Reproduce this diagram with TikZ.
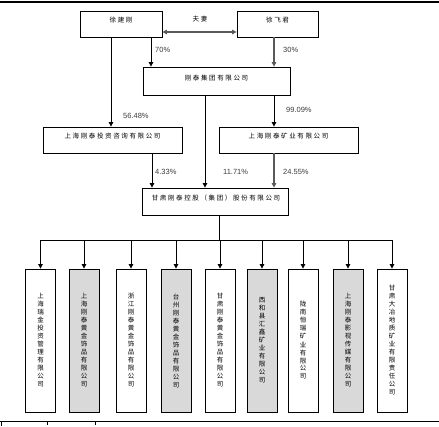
\documentclass[tikz,border=0pt]{standalone}
\usepackage{fontspec}
\setmainfont{Liberation Sans}
\newfontfamily\cjk{Noto Sans CJK SC}
\newfontfamily\cjkw[LetterSpace=25]{Noto Sans CJK SC}
\usetikzlibrary{arrows.meta}
\definecolor{boxgray}{RGB}{217,217,217}
\definecolor{labelgray}{RGB}{60,60,60}
\definecolor{linegray}{RGB}{90,90,90}
\begin{document}
\begin{tikzpicture}[x=1pt,y=-1pt,
  box/.style={draw=black, line width=0.8pt, inner sep=0pt, fill=white},
  gbox/.style={box, fill=boxgray},
  ht/.style={font=\cjkw\fontsize{6.5}{8}\selectfont, inner sep=0pt},
  vt/.style={font=\cjk\fontsize{6.5}{8}\selectfont, align=center},
  child/.style={box, minimum width=30pt, minimum height=143pt, vt},
  gchild/.style={child, fill=boxgray},
  pct/.style={font=\fontsize{7.5}{9}\selectfont, text=labelgray, inner sep=0pt, anchor=west},
  arr/.style={draw=black, line width=0.8pt, -{Triangle[length=4.5pt,width=4.5pt]}},
  garr/.style={draw=linegray, line width=1.3pt, -{Triangle[length=4.5pt,width=4.5pt]}},
  darr/.style={draw=linegray, line width=1.1pt, {Triangle[length=4.5pt,width=4.5pt]}-{Triangle[length=4.5pt,width=4.5pt]}},
  ln/.style={draw=black, line width=0.8pt}
]
\useasboundingbox (0,0) rectangle (439,426);

% rules
\coordinate (tl) at (0,2);
\coordinate (tr) at (439,2);
\coordinate (bl) at (0,421);
\coordinate (br) at (439,421);
\draw[line width=1.6pt] (tl) -- (tr);
\draw[line width=0.8pt] (bl) -- (br);
\coordinate (k1a) at (1,422); \coordinate (k1b) at (1,426);
\coordinate (k2a) at (47,422); \coordinate (k2b) at (47,425);
\coordinate (k3a) at (95,422); \coordinate (k3b) at (95,425);
\draw[line width=0.6pt] (k1a) -- (k1b);
\draw[line width=0.5pt] (k2a) -- (k2b);
\draw[line width=0.5pt] (k3a) -- (k3b);

% top boxes
\node[box, minimum width=82pt, minimum height=26pt] (xjg) at (121,24) {};
\node[ht] (txjg) at (121,20) {徐建刚};
\node[box, minimum width=81pt, minimum height=26pt] (xfj) at (277.5,24) {};
\node[ht] (txfj) at (277.5,20) {徐飞君};
\node[ht] (fq) at (200,19) {夫妻};
\coordinate (dy) at (0,32);
\draw[darr] (xjg.east |- dy) -- (xfj.west |- dy);

\node[box, minimum width=147pt, minimum height=28pt] (jt) at (216.5,81) {};
\node[ht] (tjt) at (216.5,78) {刚泰集团有限公司};

\node[box, minimum width=139pt, minimum height=26pt] (tz) at (112.5,140) {};
\node[ht] (ttz) at (112.5,136) {上海刚泰投资咨询有限公司};
\node[box, minimum width=139pt, minimum height=26pt] (ky) at (288.5,140) {};
\node[ht] (tky) at (288.5,136) {上海刚泰矿业有限公司};

\node[box, minimum width=146pt, minimum height=27pt] (gs) at (215,201.5) {};
\node[ht] (tgs) at (216,198) {甘肃刚泰控股（集团）股份有限公司};

% x positions of vertical connectors
\coordinate (x70) at (151,0);
\coordinate (x30) at (274,0);
\coordinate (x56) at (111,0);
\coordinate (x11) at (205,0);
\coordinate (x99) at (274,0);
\coordinate (x43) at (152,0);
\coordinate (x24) at (274,0);
\coordinate (xb) at (219,0);

\draw[arr] (xjg.south -| x70) -- (jt.north -| x70);
\draw[garr] (xfj.south -| x30) -- (jt.north -| x30);
\draw[arr] (xjg.south -| x56) -- (tz.north -| x56);
\draw[arr] (jt.south -| x11) -- (gs.north -| x11);
\draw[arr] (jt.south -| x99) -- (ky.north -| x99);
\draw[arr] (tz.south -| x43) -- (gs.north -| x43);
\draw[garr] (ky.south -| x24) -- (gs.north -| x24);

\node[pct] (p70) at (155,50) {70\%};
\node[pct] (p30) at (283,50) {30\%};
\node[pct] (p56) at (123,116) {56.48\%};
\node[pct] (p99) at (286,110) {99.09\%};
\node[pct] (p43) at (155,172) {4.33\%};
\node[pct] (p11) at (223,172) {11.71\%};
\node[pct] (p24) at (283,172) {24.55\%};

% children
\node[child]  (c1) at (40.5,340.5) {上\\海\\瑞\\金\\投\\资\\管\\理\\有\\限\\公\\司};
\node[gchild] (c2) at (84,340.5) {上\\海\\刚\\泰\\黄\\金\\饰\\品\\有\\限\\公\\司};
\node[child]  (c3) at (131,340.5) {浙\\江\\刚\\泰\\黄\\金\\饰\\品\\有\\限\\公\\司};
\node[gchild] (c4) at (176,340.5) {台\\州\\刚\\泰\\黄\\金\\饰\\品\\有\\限\\公\\司};
\node[child]  (c5) at (220,340.5) {甘\\肃\\刚\\泰\\黄\\金\\饰\\品\\有\\限\\公\\司};
\node[gchild] (c6) at (262,340.5) {西\\和\\县\\汇\\鑫\\矿\\业\\有\\限\\公\\司};
\node[child]  (c7) at (303,340.5) {陇\\南\\恒\\瑞\\矿\\业\\有\\限\\公\\司};
\node[gchild] (c8) at (348,340.5) {上\\海\\刚\\泰\\影\\视\\传\\媒\\有\\限\\公\\司};
\node[child]  (c9) at (392,340.5) {甘\\肃\\大\\冶\\地\\质\\矿\\业\\有\\限\\责\\任\\公\\司};

\coordinate (bus) at (0,240);
\draw[ln] (gs.south -| xb) -- (xb |- bus);
\draw[ln] (c1.north |- bus) -- (c9.north |- bus);
\foreach \i in {1,...,9} {
  \draw[arr] (c\i.north |- bus) -- (c\i.north);
}
\end{tikzpicture}
\end{document}
